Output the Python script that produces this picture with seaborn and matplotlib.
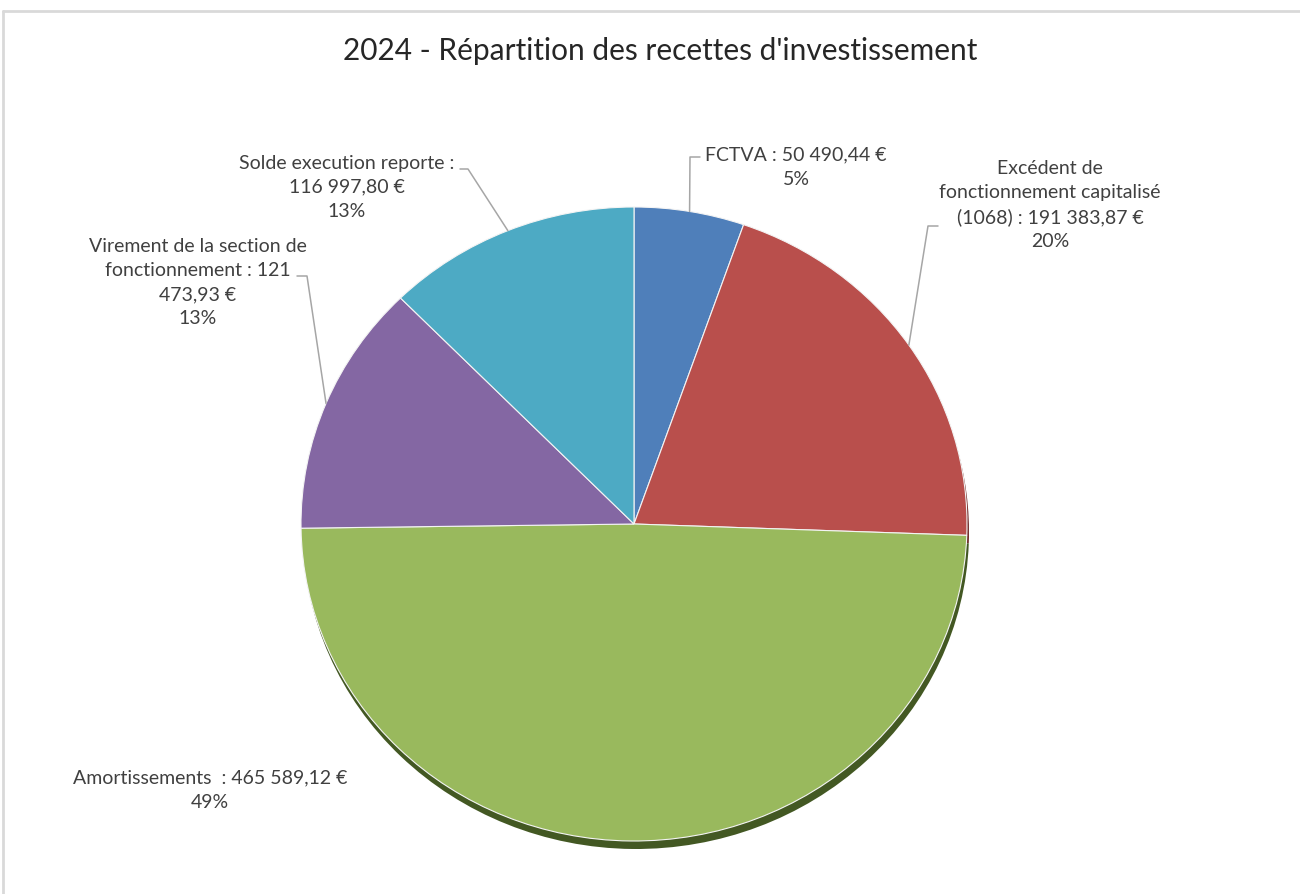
import numpy as np
import matplotlib.pyplot as plt
import seaborn as sns
from matplotlib.lines import Line2D

# données du graphique
categories = ["FCTVA", "Excédent de fonctionnement capitalisé (1068)",
              "Amortissements", "Virement de la section de fonctionnement",
              "Solde execution reporte"]
amounts = [50490.44, 191383.87, 465589.12, 121473.93, 116997.80]
labels = [
    "FCTVA : 50 490,44 €\n5%",
    "Excédent de\nfonctionnement capitalisé\n(1068) : 191 383,87 €\n20%",
    "Amortissements  : 465 589,12 €\n49%",
    "Virement de la section de\nfonctionnement : 121\n473,93 €\n13%",
    "Solde execution reporte :\n116 997,80 €\n13%",
]
colors = ["#4f7fba", "#b94f4c", "#99b95d", "#8467a3", "#4daac4"]
shadow_colors = ["#2c4a6e", "#6e2a28", "#435823", "#4a3766", "#2a6a7c"]
title = "2024 - Répartition des recettes d'investissement"

sns.set_theme(style="white")
plt.rcParams['font.family'] = ['Lato', 'DejaVu Sans']

W, H = 1300, 895
CX, CY, RX, RY = 634, 525, 333, 317

def px(x, y):
    return ((x - CX) / RX, (CY - y) / RY)

fig = plt.figure(figsize=(W / 100, H / 100), dpi=100)
ax = fig.add_axes([0, 0, 1, 1])

# ombre
ax.pie(amounts, colors=shadow_colors, startangle=90, counterclock=False,
       center=(2 / RX, -8 / RY), wedgeprops=dict(linewidth=0))
wedges, _ = ax.pie(amounts, colors=colors, startangle=90, counterclock=False,
                   wedgeprops=dict(edgecolor="#f4f4f4", linewidth=0.8))

ax.set_aspect('auto')
ax.set_xlim(-CX / RX, (W - CX) / RX)
ax.set_ylim((CY - H) / RY, CY / RY)
ax.axis('off')

# positions des étiquettes (pixels) et départ des lignes de rappel
label_pos = [(796, 167), (1050, 205), (210, 790), (198, 283), (347, 187)]
leader = [[(700, 158), (690, 158)], [(938, 227), (928, 227)], None,
          [(297, 277), (307, 277)], [(460, 170), (468, 170)]]

for w, lab, pos, ld in zip(wedges, labels, label_pos, leader):
    if ld is not None:
        ang = np.deg2rad((w.theta1 + w.theta2) / 2)
        pts = [px(*p) for p in ld] + [(np.cos(ang), np.sin(ang))]
        xs, ys = zip(*pts)
        ax.plot(xs, ys, color="#a6a6a6", lw=1.1, zorder=1)
    x, y = px(*pos)
    ax.text(x, y, lab, ha="center", va="center", multialignment="center",
            fontsize=14, color="#404040", linespacing=1.5)

fig.text(660 / W, 1 - 51 / H, title, ha="center", va="center",
         fontsize=21.5, color="#262626")

# cadre du graphique
fig.add_artist(Line2D([3 / W, 1], [1 - 12 / H, 1 - 12 / H], color="#d9d9d9", lw=2))
fig.add_artist(Line2D([3 / W, 3 / W], [0, 1 - 12 / H], color="#d9d9d9", lw=2))

fig.savefig("out.png", dpi=100)
